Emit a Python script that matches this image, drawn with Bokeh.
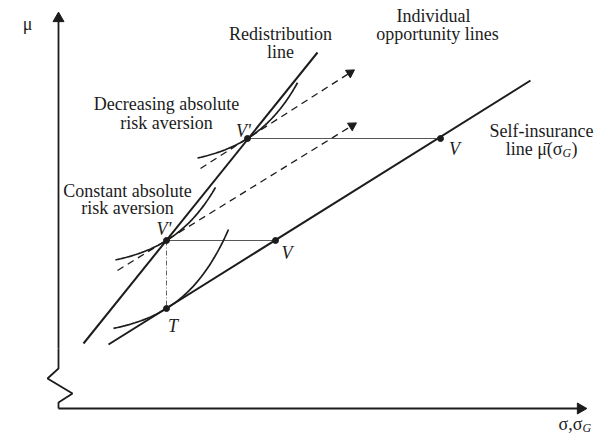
import numpy as np
from bokeh.plotting import figure
from bokeh.models import Range1d
from bokeh.core.properties import value
from bokeh.embed import file_html
from bokeh.resources import INLINE

INK = "#1c1c1c"
SERIF = "Liberation Serif"

# ---- axis frame (origin at the axes corner) ----
y_axis_tip = 395
x_axis_tip = 527
zig_x = [0, 0, -11, 14, 0, 0]
zig_y = [60, 40, 30, 15, 6, 0]

# ---- lines ----
self_ins_x = [50, 472]
self_ins_y = [64, 328]
redist_x = [25, 259]
redist_y = [65, 356]
opp_x0 = [59, 142]
opp_y0 = [138, 240]
opp_x1 = [297, 295]
opp_y1 = [285, 338]

# ---- labelled points ----
pt_names = ["T", "V'", "V", "V'", "V"]
pt_x = [108, 108, 217, 189, 382]
pt_y = [100, 168, 168, 270, 270]
pt_lab_x = [114.5, 105.5, 228.5, 185, 396]
pt_lab_y = [83, 180, 156, 278, 260]

# ---- indifference curves: tangent point, tangent slope, x-extent ----
curve_x0 = [108, 108, 189]
curve_y0 = [100, 168, 270]
curve_slope = [0.62, 0.62, 0.63]
curve_bend = [0.021, 0.021, 0.021]
curve_from = [55, 57, 139]
curve_to = [170, 157, 239]

p = figure(width=599, height=437, x_range=Range1d(-58, 541), y_range=Range1d(-29, 408),
           output_backend="svg", toolbar_location=None, min_border=0,
           x_axis_location=None, y_axis_location=None)
p.grid.visible = False
p.outline_line_color = None
p.background_fill_color = "white"


def head(x0, y0, x1, y1, size):
    """Filled triangle whose tip sits at (x1, y1), pointing from (x0, y0)."""
    ang = np.arctan2(y1 - y0, x1 - x0)
    back = size * 0.45
    cx = x1 - back * np.cos(ang)
    cy = y1 - back * np.sin(ang)
    p.scatter([cx], [cy], marker="triangle", size=size, angle=ang - np.pi / 2,
              fill_color=INK, line_color=INK)


# axes
p.line(zig_x, zig_y, line_color=INK, line_width=1.8)
p.line([0, 0], [60, y_axis_tip - 6], line_color=INK, line_width=1.8)
p.line([0, x_axis_tip - 6], [0, 0], line_color=INK, line_width=1.8)
head(0, 0, 0, y_axis_tip, 11)
head(0, 0, x_axis_tip, 0, 11)

# main lines
p.line(self_ins_x, self_ins_y, line_color=INK, line_width=2)
p.line(redist_x, redist_y, line_color=INK, line_width=2)

# opportunity lines (dashed, arrowed)
for x0, y0, x1, y1 in zip(opp_x0, opp_y0, opp_x1, opp_y1):
    p.line([x0, x1 - 4], [y0, y1 - 4 * (y1 - y0) / (x1 - x0)], line_color=INK,
           line_width=1.3, line_dash="7 5")
    head(x0, y0, x1, y1, 9)

# thin horizontal connectors
p.line([pt_x[1], pt_x[2]], [pt_y[1], pt_y[2]], line_color="#444444", line_width=0.9)
p.line([pt_x[3], pt_x[4]], [pt_y[3], pt_y[4]], line_color="#444444", line_width=0.9)
# vertical dash-dot from V' down to T
p.line([pt_x[1], pt_x[0]], [pt_y[1], pt_y[0]], line_color="#555555", line_width=0.9,
       line_dash="5 2 1 2")

# indifference curves
for x0, y0, s, c, a, b in zip(curve_x0, curve_y0, curve_slope, curve_bend, curve_from, curve_to):
    xs = np.linspace(a, b, 60)
    ys = y0 + s / c * (np.exp(c * (xs - x0)) - 1)
    p.line(xs, ys, line_color=INK, line_width=1.7)

# points
p.scatter(pt_x, pt_y, size=6, color=INK)
p.text(x=pt_lab_x, y=pt_lab_y, text=pt_names, text_font=value(SERIF), text_font_style="italic",
       text_font_size="18px", text_align="center", text_baseline="middle", text_color=INK)

# annotation texts
ann_text = ["Redistribution", "line", "Individual", "opportunity lines",
            "Decreasing absolute", "risk aversion", "Constant absolute", "risk aversion",
            "Self-insurance"]
ann_x = [222, 222, 375, 379, 108, 108, 69, 69, 483]
ann_y = [375, 357, 393, 375, 305, 286, 218, 201, 278]
p.text(x=ann_x, y=ann_y, text=ann_text, text_font=value(SERIF), text_font_size="18px",
       text_align="center", text_baseline="middle", text_color=INK)

# composite labels with subscripts
p.text(x=[504], y=[260], text=["line μ̄(σ"], text_font=value(SERIF), text_font_size="18px",
       text_align="right", text_baseline="middle", text_color=INK)
p.text(x=[504], y=[256], text=["G"], text_font=value(SERIF), text_font_style="italic",
       text_font_size="12px", text_align="left", text_baseline="middle", text_color=INK)
p.text(x=[513], y=[260], text=[")"], text_font=value(SERIF), text_font_size="18px",
       text_align="left", text_baseline="middle", text_color=INK)

p.text(x=[-31], y=[385], text=["μ"], text_font=value(SERIF), text_font_size="18px",
       text_align="center", text_baseline="middle", text_color=INK)
p.text(x=[524], y=[-15], text=["σ,σ"], text_font=value(SERIF), text_font_size="18px",
       text_align="right", text_baseline="middle", text_color=INK)
p.text(x=[524], y=[-19], text=["G"], text_font=value(SERIF), text_font_style="italic",
       text_font_size="12px", text_align="left", text_baseline="middle", text_color=INK)

open("out.html", "w").write(file_html(p, INLINE))
